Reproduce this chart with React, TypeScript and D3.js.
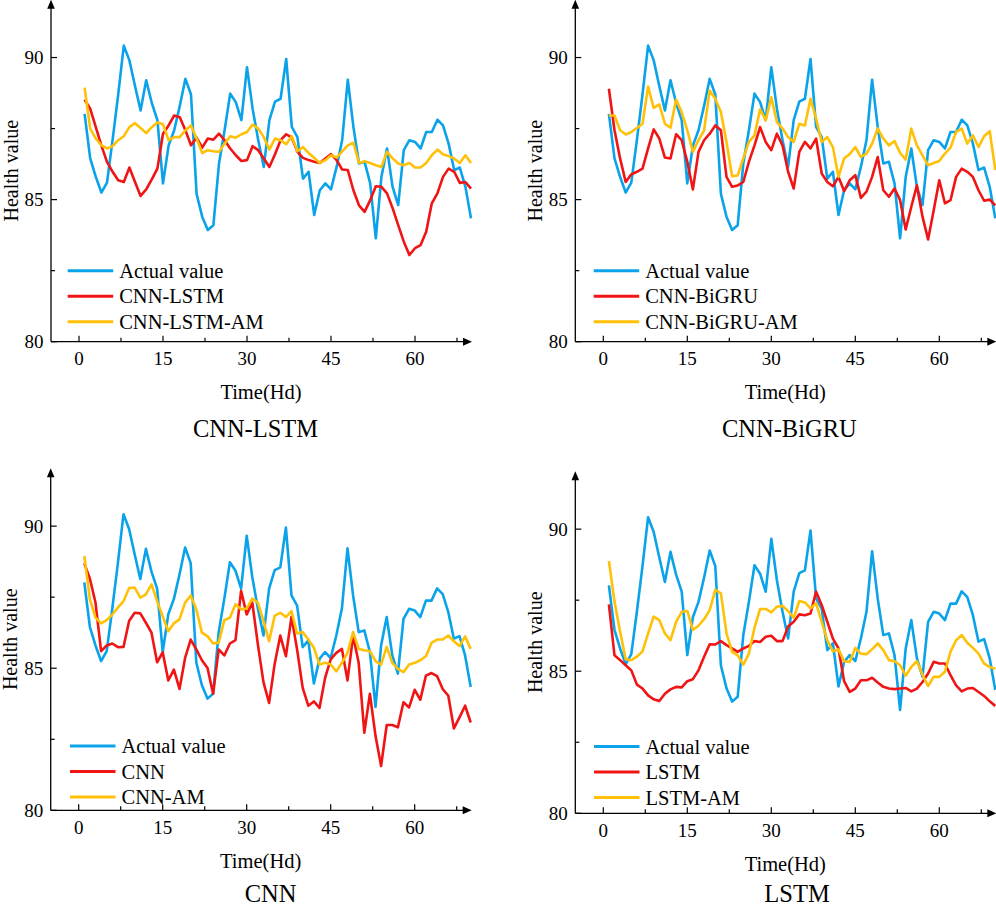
import React from "react";
import { scaleLinear, line } from "d3";

// time index 1..70
const steps: number[] = Array.from({ length: 70 }, (_, i) => i + 1);

const actual = [
  88.02, 86.45, 85.8, 85.25, 85.6, 87.1, 88.7, 90.42, 89.9, 89.0,
  88.14, 89.2, 88.4, 87.8, 85.57, 86.9, 87.44, 88.3, 89.25, 88.7,
  85.2, 84.4, 83.93, 84.1, 86.27, 87.44, 88.73, 88.43, 87.8, 89.66,
  88.2, 87.1, 86.15, 87.8, 88.45, 88.55, 89.95, 87.56, 87.2, 85.74,
  85.98, 84.46, 85.33, 85.57, 85.36, 86.15, 87.1, 89.22, 87.56, 86.27,
  86.33, 85.57, 83.64, 85.8, 86.8, 85.45, 84.81, 86.74, 87.09, 87.03,
  86.8, 87.38, 87.38, 87.81, 87.61, 86.97, 86.04, 86.13, 85.45, 84.34,
];

const cnnLstm = [
  88.52, 88.2, 87.55, 86.9, 86.33, 85.98, 85.68, 85.62, 86.13, 85.62,
  85.13, 85.36, 85.71, 86.09, 87.32, 87.61, 87.96, 87.9, 87.44, 86.91,
  87.18, 86.83, 87.15, 87.11, 87.32, 87.09, 86.8, 86.56, 86.36, 86.39,
  86.88, 86.74, 86.45, 86.15, 86.6, 87.09, 87.3, 87.18, 86.68, 86.47,
  86.39, 86.33, 86.29, 86.45, 86.6, 86.39, 86.06, 86.04, 85.33, 84.8,
  84.57, 84.98, 85.47, 85.45, 85.22, 84.7, 84.1, 83.52, 83.05, 83.29,
  83.4, 83.87, 84.87, 85.22, 85.8, 86.09, 85.98, 85.59, 85.62, 85.39,
];

const cnnLstmAm = [
  88.94, 87.5, 87.15, 86.91, 86.8, 86.88, 87.09, 87.23, 87.55, 87.69,
  87.52, 87.34, 87.55, 87.71, 87.65, 87.09, 87.2, 87.2, 87.44, 87.61,
  87.15, 86.64, 86.74, 86.7, 86.68, 86.97, 87.23, 87.18, 87.3, 87.38,
  87.64, 87.5, 87.2, 86.76, 87.15, 87.09, 86.95, 87.23, 86.7, 86.85,
  86.64, 86.47, 86.29, 86.39, 86.56, 86.48, 86.7, 86.91, 87.0, 86.29,
  86.35, 86.29, 86.21, 86.15, 86.68, 86.45, 86.27, 86.21, 86.29, 86.13,
  86.13, 86.29, 86.56, 86.76, 86.6, 86.53, 86.45, 86.29, 86.56, 86.29,
];

const cnnBigru = [
  88.9, 87.44, 86.45, 85.62, 85.89, 85.98, 86.09, 86.8, 87.47, 87.15,
  86.48, 86.45, 87.3, 87.09, 86.33, 85.36, 86.68, 87.09, 87.32, 87.61,
  87.44, 85.8, 85.45, 85.5, 85.62, 86.33, 86.91, 87.55, 87.03, 86.74,
  87.32, 86.91, 85.98, 85.39, 86.68, 87.03, 86.8, 87.15, 85.92, 85.62,
  85.47, 85.8, 85.3, 85.68, 85.86, 85.06, 85.28, 85.8, 86.5, 85.33,
  85.1, 85.39, 84.98, 83.95, 84.75, 85.5, 84.4, 83.6, 84.63, 85.68,
  84.87, 84.98, 85.8, 86.09, 85.98, 85.8, 85.33, 84.96, 85.0, 84.8,
];

const cnnBigruAm = [
  87.96, 87.96, 87.44, 87.29, 87.38, 87.52, 87.67, 88.98, 88.23, 88.35,
  87.67, 87.53, 88.52, 88.08, 87.44, 86.68, 87.09, 87.44, 88.84, 88.55,
  88.08, 87.03, 85.82, 85.85, 86.45, 87.03, 87.26, 88.18, 87.79, 88.6,
  87.73, 87.5, 87.2, 87.03, 87.67, 87.61, 88.55, 87.85, 87.03, 87.2,
  86.85, 85.8, 86.45, 86.6, 86.85, 86.5, 86.62, 86.97, 87.5, 87.15,
  86.91, 87.06, 86.64, 86.41, 87.5, 86.91, 86.56, 86.21, 86.29, 86.36,
  86.62, 86.83, 87.38, 87.5, 86.97, 87.26, 86.85, 87.23, 87.41, 86.04,
];

const cnn = [
  88.69, 88.15, 87.31, 85.6, 85.8, 85.87, 85.74, 85.75, 86.66, 86.95,
  86.93, 86.6, 86.25, 85.21, 85.56, 84.57, 84.95, 84.27, 85.36, 86.01,
  85.66, 85.28, 85.01, 84.1, 85.66, 85.45, 85.87, 85.99, 87.72, 86.89,
  87.31, 85.83, 84.5, 83.78, 85.16, 86.15, 85.42, 86.81, 85.66, 84.31,
  83.68, 83.83, 83.6, 84.66, 85.31, 85.54, 85.68, 84.57, 86.13, 85.19,
  82.73, 84.1, 82.62, 81.56, 83.0, 83.0, 82.92, 83.8, 83.62, 84.24,
  83.89, 84.74, 84.83, 84.72, 84.27, 84.03, 82.88, 83.27, 83.68, 83.09,
];

const cnnAm = [
  88.95, 87.42, 86.78, 86.58, 86.69, 86.89, 87.13, 87.36, 87.82, 87.84,
  87.48, 87.6, 87.95, 87.36, 86.83, 86.3, 86.58, 86.72, 87.31, 87.56,
  87.07, 86.25, 86.13, 85.87, 85.9, 86.69, 86.78, 87.25, 87.07, 87.1,
  87.45, 87.31, 86.66, 85.95, 86.85, 86.95, 86.8, 87.01, 86.22, 86.27,
  86.01, 85.72, 85.13, 85.19, 85.13, 84.89, 85.19, 85.54, 86.27, 85.68,
  85.63, 85.6, 85.25, 85.13, 85.75, 85.19, 84.98, 84.86, 85.13, 85.19,
  85.28, 85.42, 85.89, 86.01, 86.01, 86.15, 85.95, 85.78, 86.12, 85.68,
];

const lstm = [
  87.35, 85.56, 85.39, 85.21, 85.03, 84.53, 84.39, 84.15, 84.01, 83.95,
  84.21, 84.36, 84.45, 84.43, 84.65, 84.72, 85.03, 85.51, 85.95, 85.94,
  86.06, 85.92, 85.8, 85.68, 85.8, 85.89, 86.06, 86.03, 86.21, 86.25,
  86.06, 86.06, 86.57, 86.74, 87.0, 86.97, 87.03, 87.8, 87.33, 86.74,
  86.15, 85.8, 84.65, 84.27, 84.39, 84.68, 84.68, 84.77, 84.6, 84.45,
  84.39, 84.37, 84.39, 84.41, 84.29, 84.39, 84.62, 84.92, 85.33, 85.27,
  85.27, 84.86, 84.5, 84.29, 84.39, 84.41, 84.27, 84.13, 83.94, 83.78,
];

const lstmAm = [
  88.88, 87.45, 86.39, 85.42, 85.39, 85.51, 85.7, 86.33, 86.92, 86.8,
  86.33, 86.09, 86.74, 87.09, 87.12, 86.45, 86.6, 86.83, 87.15, 87.86,
  87.74, 86.33, 85.68, 85.56, 85.23, 85.62, 86.53, 87.19, 87.19, 87.07,
  87.27, 87.3, 87.12, 86.88, 87.47, 87.42, 87.21, 87.39, 86.74, 86.09,
  85.7, 85.77, 85.35, 85.33, 85.82, 85.62, 85.6, 85.77, 85.98, 85.74,
  85.39, 85.35, 85.21, 84.84, 85.15, 85.35, 84.88, 84.48, 84.8, 84.8,
  84.98, 85.68, 86.09, 86.27, 86.0, 85.82, 85.62, 85.27, 85.15, 85.09,
];

const xTicks = [0, 15, 30, 45, 60];
const xMinorTicks = [7.5, 22.5, 37.5, 52.5, 67.5];
const yTicks = [80, 85, 90];
const yMinorTicks = [82.5, 87.5];

const BLUE = "#0aa3ea";
const RED = "#f01414";
const GOLD = "#ffc107";
const FONT = "'Liberation Serif', 'Times New Roman', serif";

interface PanelProps {
  left: number; // x of the y axis
  bottom: number; // y of the x axis
  title: string;
  titleX: number;
  titleY: number;
  legendY: number;
  legendX: number;
  labels: string[];
  predicted: number[];
  predictedAm: number[];
}

function Panel({
  left,
  bottom,
  title,
  titleX,
  titleY,
  legendY,
  legendX,
  labels,
  predicted,
  predictedAm,
}: PanelProps) {
  const xScale = scaleLinear().domain([-5, 70]).range([left, left + 420]);
  const yScale = scaleLinear().domain([80, 92]).range([bottom, bottom - 341]);

  const path = (values: number[]) =>
    line<number>()
      .x((_, i) => xScale(steps[i]))
      .y((d) => yScale(d))(values) ?? "";

  const right = xScale(70);
  const top = yScale(92);
  const series = [
    { name: labels[0], values: actual, color: BLUE },
    { name: labels[1], values: predicted, color: RED },
    { name: labels[2], values: predictedAm, color: GOLD },
  ];

  return (
    <g>
      {/* lines */}
      {series.map((s) => (
        <path
          key={s.name}
          d={path(s.values)}
          fill="none"
          stroke={s.color}
          strokeWidth={2.6}
          strokeLinejoin="round"
        />
      ))}

      {/* axes */}
      <line x1={left} x2={right - 2} y1={bottom} y2={bottom} stroke="#000" strokeWidth={1.3} />
      <line x1={left} x2={left} y1={bottom} y2={top + 4} stroke="#000" strokeWidth={1.3} />
      <path d={`M${right + 1},${bottom} L${right - 8},${bottom - 4} L${right - 8},${bottom + 4} Z`} fill="#000" />
      <path d={`M${left},${top - 1} L${left - 3.8},${top + 8} L${left + 3.8},${top + 8} Z`} fill="#000" />

      {xTicks.map((t) => (
        <g key={t}>
          <line x1={xScale(t)} x2={xScale(t)} y1={bottom} y2={bottom - 6} stroke="#000" strokeWidth={1.2} />
          <text x={xScale(t)} y={bottom + 23.5} textAnchor="middle" fontSize={19}>
            {t}
          </text>
        </g>
      ))}
      {xMinorTicks.map((t) => (
        <line key={t} x1={xScale(t)} x2={xScale(t)} y1={bottom} y2={bottom - 4} stroke="#000" strokeWidth={1.2} />
      ))}
      {yTicks.map((t) => (
        <g key={t}>
          <line x1={left} x2={left + 6} y1={yScale(t)} y2={yScale(t)} stroke="#000" strokeWidth={1.2} />
          <text x={left - 7.5} y={yScale(t)} dy="0.35em" textAnchor="end" fontSize={19}>
            {t}
          </text>
        </g>
      ))}
      {yMinorTicks.map((t) => (
        <line key={t} x1={left} x2={left + 4} y1={yScale(t)} y2={yScale(t)} stroke="#000" strokeWidth={1.2} />
      ))}

      {/* axis titles */}
      <text
        transform={`translate(${left - 33.5},${bottom - 171}) rotate(-90)`}
        textAnchor="middle"
        fontSize={20}
      >
        Health value
      </text>
      <text x={left + 210} y={bottom + 57.5} textAnchor="middle" fontSize={20.5}>
        Time(Hd)
      </text>
      <text x={titleX} y={titleY} textAnchor="middle" fontSize={24.5}>
        {title}
      </text>

      {/* legend */}
      {series.map((s, i) => (
        <g key={s.name} transform={`translate(${legendX},${legendY + i * 25.5})`}>
          <line x1={0} x2={45.5} y1={0} y2={0} stroke={s.color} strokeWidth={3} />
          <text x={51.5} y={7} fontSize={20.5}>
            {s.name}
          </text>
        </g>
      ))}
    </g>
  );
}

export default function App() {
  return (
    <div>
      <style>{`body{margin:0}`}</style>
      <svg width={996} height={906} style={{ display: "block" }} fontFamily={FONT} fill="#000">
        <rect width={996} height={906} fill="#fff" />
        <Panel
          left={51}
          bottom={341.7}
          title="CNN-LSTM"
          titleX={255.5}
          titleY={436.7}
          legendX={67.7}
          legendY={270.7}
          labels={["Actual value", "CNN-LSTM", "CNN-LSTM-AM"]}
          predicted={cnnLstm}
          predictedAm={cnnLstmAm}
        />
        <Panel
          left={575.3}
          bottom={341.7}
          title="CNN-BiGRU"
          titleX={789.3}
          titleY={436.7}
          legendX={593.7}
          legendY={270.7}
          labels={["Actual value", "CNN-BiGRU", "CNN-BiGRU-AM"]}
          predicted={cnnBigru}
          predictedAm={cnnBigruAm}
        />
        <Panel
          left={50.7}
          bottom={810.3}
          title="CNN"
          titleX={270.5}
          titleY={902}
          legendX={70}
          legendY={746}
          labels={["Actual value", "CNN", "CNN-AM"]}
          predicted={cnn}
          predictedAm={cnnAm}
        />
        <Panel
          left={575.3}
          bottom={813.3}
          title="LSTM"
          titleX={797}
          titleY={902}
          legendX={594}
          legendY={746.5}
          labels={["Actual value", "LSTM", "LSTM-AM"]}
          predicted={lstm}
          predictedAm={lstmAm}
        />
      </svg>
    </div>
  );
}
